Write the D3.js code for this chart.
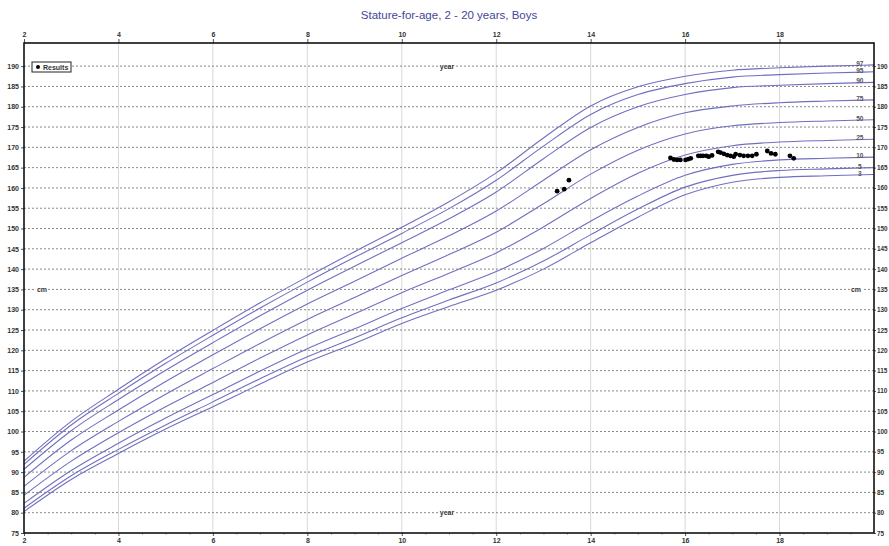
<!DOCTYPE html>
<html><head><meta charset="utf-8">
<script src="https://cdn.jsdelivr.net/npm/d3@7"></script>
<style>body{margin:0;background:#fff;}svg{display:block;font-family:Arial, "Liberation Sans", sans-serif;}</style>
</head><body><svg id="c" width="889" height="546"></svg>
<script>
const title = "Stature-for-age, 2 - 20 years, Boys";
const ages = [2,3,4,5,6,7,8,9,10,11,12,13,14,15,16,17,18,19,20];
const percentileNames = ["3","5","10","25","50","75","90","95","97"];
const p3  = [80.3,88.2,94.6,100.6,106.1,111.7,117.1,121.7,126.6,130.8,134.8,140.0,146.5,152.8,158.3,161.4,162.6,163.0,163.3];
const p5  = [81.1,89.1,95.6,101.6,107.3,113.0,118.4,123.1,128.0,132.4,136.6,142.0,148.5,154.8,160.2,163.1,164.3,164.7,165.0];
const p10 = [82.3,90.4,97.1,103.3,109.1,114.9,120.4,125.3,130.3,134.9,139.4,145.1,151.8,158.0,163.1,165.8,166.9,167.3,167.6];
const p25 = [84.3,92.7,99.7,106.1,112.1,118.1,123.8,129.0,134.2,139.0,144.0,150.4,157.4,163.6,168.1,170.4,171.3,171.7,172.0];
const p50 = [86.5,95.3,102.5,109.2,115.5,121.7,127.6,133.0,138.4,143.6,149.1,156.1,163.4,169.3,173.3,175.3,176.1,176.5,176.8];
const p75 = [88.7,97.9,105.3,112.3,118.9,125.3,131.4,137.0,142.7,148.2,154.3,161.9,169.4,174.9,178.5,180.2,181.0,181.4,181.7];
const p90 = [90.7,100.2,107.9,115.1,121.9,128.5,134.8,140.7,146.5,152.4,159.0,167.2,174.9,180.0,183.0,184.7,185.3,185.7,186.0];
const p95 = [91.9,101.6,109.4,116.8,123.7,130.4,136.8,142.9,148.8,154.9,161.9,170.3,178.1,183.0,185.7,187.3,187.9,188.3,188.6];
const p97 = [92.7,102.5,110.4,117.9,124.9,131.7,138.1,144.3,150.3,156.6,163.7,172.3,180.2,184.9,187.5,189.0,189.6,190.0,190.3];
const curves = [p3,p5,p10,p25,p50,p75,p90,p95,p97];
const resultAges    = [13.29,13.44,13.54,15.69,15.76,15.83,15.90,16.01,16.07,16.12,16.28,16.33,16.38,16.45,16.50,16.57,16.70,16.75,16.82,16.89,16.96,17.03,17.07,17.16,17.24,17.33,17.42,17.51,17.74,17.82,17.91,18.22,18.30];
const resultHeights = [159.2,159.7,161.9,167.4,167.0,166.9,166.9,166.9,167.1,167.3,167.9,167.9,167.9,167.9,167.7,168.0,168.9,168.7,168.4,168.1,167.9,167.7,168.3,168.1,167.9,167.9,167.9,168.3,169.1,168.5,168.3,167.9,167.3];
const xTickLabels = [2,4,6,8,10,12,14,16,18];
const yTickLabels = [75,80,85,90,95,100,105,110,115,120,125,130,135,140,145,150,155,160,165,170,175,180,185,190];

const svg = d3.select("#c");
const L = 24, R = 874, T = 43, B = 533;
const x = d3.scaleLinear().domain([2,20]).range([L,R]);
const y = d3.scaleLinear().domain([75,195.7]).range([B,T]);
const labelColor = "#333";

// title
svg.append("text").attr("x",449).attr("y",19).attr("text-anchor","middle")
  .attr("font-size",11.5).style("fill","#45459a").text(title);

// vertical grid
svg.append("g").selectAll("line").data(xTickLabels.filter(d=>d>2)).join("line")
  .attr("x1",d=>x(d)).attr("x2",d=>x(d)).attr("y1",T).attr("y2",B)
  .attr("stroke","#d8d8d8").attr("stroke-width",1);
// horizontal grid
svg.append("g").selectAll("line").data(yTickLabels.filter(d=>d>75)).join("line")
  .attr("x1",L).attr("x2",R).attr("y1",d=>y(d)).attr("y2",d=>y(d))
  .attr("stroke","#888").attr("stroke-width",1).attr("stroke-dasharray","2,2");

// axes
const axL = svg.append("g").attr("transform",`translate(${L},0)`).call(d3.axisLeft(y).tickValues(yTickLabels).tickSize(3).tickPadding(2));
const axR = svg.append("g").attr("transform",`translate(${R},0)`).call(d3.axisRight(y).tickValues(yTickLabels).tickSize(2).tickPadding(1));
const axT = svg.append("g").attr("transform",`translate(0,${T})`).call(d3.axisTop(x).tickValues(xTickLabels).tickSize(4).tickPadding(2));
const axB = svg.append("g").attr("transform",`translate(0,${B})`).call(d3.axisBottom(x).tickValues(xTickLabels).tickSize(3).tickPadding(2));
const minorT = d3.range(2.5,20,0.5).filter(d=>d%2!==0);
svg.append("g").attr("transform",`translate(0,${B})`).call(d3.axisBottom(x).tickValues(minorT).tickSize(2).tickFormat(""))
  .call(g=>g.select(".domain").remove()).selectAll("line").attr("stroke","#bbb");
[axL,axR,axT,axB].forEach(g=>{
  g.select(".domain").remove();
  g.selectAll("text").attr("font-size",7).attr("font-weight","bold").style("fill",labelColor).attr("font-family","Arial, Liberation Sans, sans-serif");
  g.selectAll("line").attr("stroke","#555");
});
axR.selectAll("text").attr("font-size",6.4);

// unit labels
function unitLabel(cx, cy, txt){
  const t = svg.append("text").attr("x",cx).attr("y",cy+2.5).attr("text-anchor","middle")
    .attr("font-size",7).attr("font-weight","bold").style("fill",labelColor).text(txt);
  const bb = t.node().getBBox();
  svg.insert("rect", () => t.node()).attr("x",bb.x-1).attr("y",bb.y).attr("width",bb.width+2).attr("height",bb.height).attr("fill","#fff");
}
unitLabel(447, y(190), "year");
unitLabel(447, y(80), "year");
unitLabel(42, y(135), "cm");
unitLabel(856, y(135), "cm");

// curves
const line = d3.line().x((d,i)=>x(ages[i])).y(d=>y(d)).curve(d3.curveMonotoneX);
svg.append("g").selectAll("path").data(curves).join("path")
  .attr("d",d=>line(d)).attr("fill","none").attr("stroke","#6f6fc0").attr("stroke-width",1.1);

// percentile labels
svg.append("g").selectAll("text").data(curves).join("text")
  .attr("x",x(19.7)).attr("y",d=>y(d[d.length-1])+1).attr("text-anchor","middle")
  .attr("font-size",6.5).attr("font-weight","bold").style("fill","#555")
  .text((d,i)=>percentileNames[i]);

// border
svg.append("rect").attr("x",L).attr("y",T).attr("width",R-L).attr("height",B-T)
  .attr("fill","none").attr("stroke","#111").attr("stroke-width",1.6);

// results
svg.append("g").selectAll("circle").data(resultAges).join("circle")
  .attr("cx",d=>x(d)).attr("cy",(d,i)=>y(resultHeights[i])).attr("r",2.4).attr("fill","#000");

// legend
const lg = svg.append("g");
lg.append("rect").attr("x",32).attr("y",62).attr("width",39).attr("height",10).attr("fill","#fff").attr("stroke","#222").attr("stroke-width",1);
lg.append("circle").attr("cx",38).attr("cy",67).attr("r",2).attr("fill","#000");
lg.append("text").attr("x",43).attr("y",69.5).attr("font-size",7).attr("font-weight","bold").style("fill","#333").text("Results");
</script></body></html>
